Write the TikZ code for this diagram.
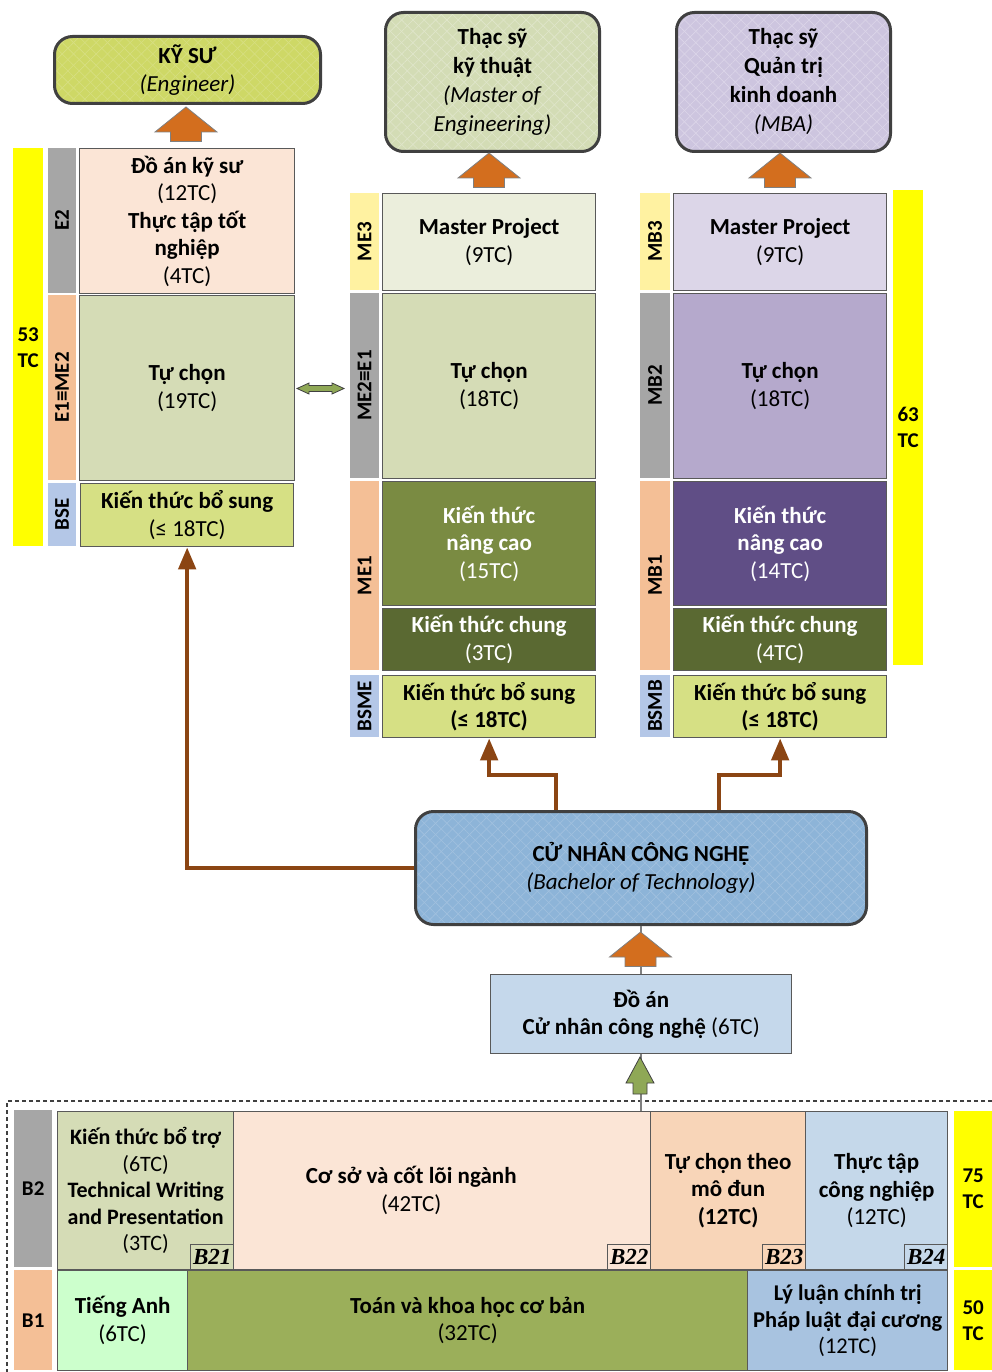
\documentclass[tikz,border=0pt]{standalone}
\usepackage{fontspec}
\setmainfont{Carlito}
\newfontfamily\tagfont{Liberation Serif}
\usetikzlibrary{arrows.meta,patterns.meta}
\definecolor{cBorder}{RGB}{89,89,89}
\definecolor{cDarkB}{RGB}{64,64,64}
\definecolor{cGray}{RGB}{166,166,166}
\definecolor{cPeach}{RGB}{244,191,150}
\definecolor{cBlueL}{RGB}{180,199,231}
\definecolor{cYel}{RGB}{255,242,161}
\definecolor{cYbar}{RGB}{255,255,0}
\definecolor{cPeachL}{RGB}{251,229,214}
\definecolor{cOliveL}{RGB}{213,220,182}
\definecolor{cBS}{RGB}{214,224,132}
\definecolor{cMEl}{RGB}{235,238,220}
\definecolor{cOlive}{RGB}{122,139,66}
\definecolor{cDark}{RGB}{90,105,50}
\definecolor{cMBl}{RGB}{220,214,232}
\definecolor{cMBm}{RGB}{181,169,204}
\definecolor{cMBd}{RGB}{96,78,134}
\definecolor{cDoan}{RGB}{197,216,235}
\definecolor{cPeachM}{RGB}{248,213,184}
\definecolor{cBlueM}{RGB}{197,216,234}
\definecolor{cGreenL}{RGB}{204,255,204}
\definecolor{cToan}{RGB}{155,175,90}
\definecolor{cBlueD}{RGB}{168,195,224}
\definecolor{cKS}{RGB}{206,216,102}
\definecolor{cME}{RGB}{211,220,181}
\definecolor{cMBA}{RGB}{205,197,223}
\definecolor{cCN}{RGB}{141,180,216}
\definecolor{cBrown}{RGB}{139,69,19}
\definecolor{cOrange}{RGB}{211,110,30}
\definecolor{cGreenA}{RGB}{143,168,86}
\newcommand\myfs{\fontsize{23}{27.5}\selectfont}
\newcommand\labfs{\fontsize{21}{26}\selectfont}
\newcommand\cellbox[7]{\node[cell,#6,minimum width={#4-#2},minimum height={#5-#3}] (#1) at (#2,#3) {#7};}
\newcommand\labbox[7]{\node[lab,#6,minimum width={#5-#3},minimum height={#4-#2}] (#1) at ({(#2+#4)/2},{(#3+#5)/2}) {#7};}
\newcommand\oarrow[2]{\draw[oarr] (#1,#2) -- ++(31,25) -- ++(-15.5,0) -- ++(0,9.5) -- ++(-31,0) -- ++(0,-9.5) -- ++(-15.5,0) -- cycle;}
\begin{document}
\begin{tikzpicture}[x=1pt,y=-1pt,
  cell/.style={draw=cBorder,line width=1.3pt,anchor=north west,inner sep=0pt,align=center,font=\myfs},
  lab/.style={rotate=90,inner sep=0pt,align=center,font=\labfs\bfseries},
  labn/.style={anchor=north west,inner sep=0pt,align=center,font=\labfs\bfseries},
  ybar/.style={fill=cYbar,anchor=north west,inner sep=0pt,align=center,font=\labfs\bfseries},
  rbox/.style 2 args={preaction={fill=#1},
     preaction={pattern={Lines[angle=45,distance=8pt,line width=0.6pt]},pattern color=#2},
     preaction={pattern={Lines[angle=-45,distance=8pt,line width=0.6pt]},pattern color=#2},
     draw=cDarkB,line width=3pt,rounded corners=18pt,anchor=north west,inner sep=0pt,align=center,font=\myfs},
  tagbox/.style={draw=cBorder,line width=1.2pt,anchor=south east,inner sep=0pt,minimum width=43,minimum height=25,font=\fontsize{23}{23}\selectfont\tagfont\bfseries\itshape},
  oarr/.style={fill=cOrange,draw=gray,line width=0.8pt},
  garr/.style={fill=cGreenA,draw=cDarkB,line width=0.8pt},
  brownline/.style={draw=cBrown,line width=4.5pt,-{Triangle[width=17pt,length=22pt]}},
  thinline/.style={draw=gray,line width=1.5pt},
  dashframe/.style={draw=cDarkB,line width=1.5pt,dash pattern=on 4pt off 3pt}
]
\useasboundingbox (0,0) rectangle (992,1372);

% top degree boxes
\node[rbox={cKS}{cKS!82!white},minimum width=266,minimum height=67] (ks) at (53,35) {\textbf{KỸ SƯ}\\\textit{(Engineer)}};
\node[rbox={cME}{cME!70!white},minimum width=214,minimum height=139] (mek) at (384,11) {\textbf{Thạc sỹ}\\[1.5pt]\textbf{kỹ thuật}\\[1.5pt]\textit{(Master of}\\[1.5pt]\textit{Engineering)}};
\node[rbox={cMBA}{cMBA!70!white},minimum width=214,minimum height=139] (mba) at (675,11) {\textbf{Thạc sỹ}\\[1.5pt]\textbf{Quản trị}\\[1.5pt]\textbf{kinh doanh}\\[1.5pt]\textit{(MBA)}};

\oarrow{186}{107}
\oarrow{489}{153}
\oarrow{780}{153}

% left column
\node[ybar,minimum width=30,minimum height=398] (t53) at (13,148) {53\\TC};
\labbox{le2}{48}{148}{76}{293}{fill=cGray}{E2}
\cellbox{e2}{79}{148}{294}{293}{fill=cPeachL}{\textbf{Đồ án kỹ sư}\\(12TC)\\\textbf{Thực tập tốt}\\\textbf{nghiệp}\\(4TC)}
\labbox{le1}{48}{295}{76}{480}{fill=cPeach}{E1≡ME2}
\cellbox{e1}{79}{295}{294}{480}{fill=cOliveL}{\textbf{Tự chọn}\\(19TC)}
\labbox{lbse}{48}{483}{76}{546}{fill=cBlueL}{BSE}
\cellbox{bse}{80}{483}{293}{546}{fill=cBS}{\textbf{Kiến thức bổ sung}\\(≤ 18TC)}

% double arrow
\draw[garr] (297,388.5) -- (309,383) -- (309,385.5) -- (332,385.5) -- (332,383) -- (344,388.5) -- (332,394) -- (332,391.5) -- (309,391.5) -- (309,394) -- cycle;

% middle column
\labbox{lme3}{350}{193}{379}{290}{fill=cYel}{ME3}
\cellbox{me3}{382}{193}{595}{290}{fill=cMEl}{\textbf{Master Project}\\(9TC)}
\labbox{lme2}{350}{293}{379}{478}{fill=cGray}{ME2≡E1}
\cellbox{me2}{382}{293}{595}{478}{fill=cOliveL}{\textbf{Tự chọn}\\(18TC)}
\labbox{lme1}{350}{481}{379}{670}{fill=cPeach}{ME1}
\cellbox{me1a}{382}{481}{595}{605}{fill=cOlive,text=white}{\textbf{Kiến thức}\\\textbf{nâng cao}\\(15TC)}
\cellbox{me1b}{382}{608}{595}{670}{fill=cDark,text=white}{\textbf{Kiến thức chung}\\(3TC)}
\labbox{lbsme}{350}{675}{379}{737}{fill=cBlueL}{BSME}
\cellbox{bsme}{382}{675}{595}{737}{fill=cBS}{\textbf{Kiến thức bổ sung}\\\textbf{(≤ 18TC)}}

% right column
\labbox{lmb3}{640}{193}{670}{290}{fill=cYel}{MB3}
\cellbox{mb3}{673}{193}{886}{290}{fill=cMBl}{\textbf{Master Project}\\(9TC)}
\labbox{lmb2}{640}{293}{670}{478}{fill=cGray}{MB2}
\cellbox{mb2}{673}{293}{886}{478}{fill=cMBm}{\textbf{Tự chọn}\\(18TC)}
\labbox{lmb1}{640}{481}{670}{670}{fill=cPeach}{MB1}
\cellbox{mb1a}{673}{481}{886}{605}{fill=cMBd,text=white}{\textbf{Kiến thức}\\\textbf{nâng cao}\\(14TC)}
\cellbox{mb1b}{673}{608}{886}{670}{fill=cDark,text=white}{\textbf{Kiến thức chung}\\(4TC)}
\labbox{lbsmb}{640}{675}{670}{737}{fill=cBlueL}{BSMB}
\cellbox{bsmb}{673}{675}{886}{737}{fill=cBS}{\textbf{Kiến thức bổ sung}\\\textbf{(≤ 18TC)}}
\node[ybar,minimum width=30,minimum height=475] (t63) at (893,190) {63\\TC};

% bachelor
\node[rbox={cCN}{cCN!82!white},minimum width=451,minimum height=113] (cn) at (414,810) {\textbf{CỬ NHÂN CÔNG NGHỆ}\\\textit{(Bachelor of Technology)}};
\cellbox{doan}{490}{974}{791}{1053}{fill=cDoan}{\textbf{Đồ án}\\\textbf{Cử nhân công nghệ} (6TC)}

% brown connectors
\coordinate (c1) at (556,775);
\coordinate (c2) at (719,775);
\draw[brownline] (cn.west) -| (bse.south);
\draw[brownline] (c1 |- cn.north) -- (c1) -| (bsme.south);
\draw[brownline] (c2 |- cn.north) -- (c2) -| (bsmb.south);

% bottom block
\draw[dashframe] (992,1101) -- (7,1101) -- (7,1372);
\node[labn,fill=cGray,minimum width=38,minimum height=157] (lb2) at (14,1110) {B2};
\node[labn,fill=cPeach,minimum width=38,minimum height=100] (lb1) at (14,1270) {B1};
\cellbox{kbt}{57}{1111}{233}{1269}{fill=cOliveL,font=\fontsize{22}{26.5}\selectfont}{\textbf{Kiến thức bổ trợ}\\(6TC)\\\textbf{Technical Writing}\\\textbf{and Presentation}\\(3TC)}
\cellbox{cs}{233}{1111}{650}{1269}{fill=cPeachL}{}
\node[align=center,font=\myfs,inner sep=0pt] (cstext) at ([xshift=-31pt]cs.center) {\textbf{Cơ sở và cốt lõi ngành}\\(42TC)};
\cellbox{tct}{650}{1111}{805}{1269}{fill=cPeachM}{\textbf{Tự chọn theo}\\\textbf{mô đun}\\\textbf{(12TC)}}
\cellbox{ttcn}{805}{1111}{947}{1269}{fill=cBlueM}{\textbf{Thực tập}\\\textbf{công nghiệp}\\(12TC)}
\node[tagbox] (b21) at (kbt.south east) {B21};
\node[tagbox] (b22) at (cs.south east) {B22};
\node[tagbox] (b23) at (tct.south east) {B23};
\node[tagbox] (b24) at (ttcn.south east) {B24};
\cellbox{ta}{57}{1270}{187}{1370}{fill=cGreenL}{\textbf{Tiếng Anh}\\(6TC)}
\cellbox{toan}{187}{1270}{747}{1370}{fill=cToan}{\textbf{Toán và khoa học cơ bản}\\(32TC)}
\cellbox{llct}{747}{1270}{947}{1370}{fill=cBlueD,font=\fontsize{22.5}{26.5}\selectfont}{\textbf{Lý luận chính trị}\\\textbf{Pháp luật đại cương}\\(12TC)}
\node[ybar,minimum width=38,minimum height=156] (t75) at (954,1111) {75\\TC};
\node[ybar,minimum width=38,minimum height=100] (t50) at (954,1270) {50\\TC};

% links between bachelor parts
\draw[thinline] (doan.north |- cn.south) -- (doan.north);
\draw[thinline] (doan.south) -- (doan.south |- cs.north);
\oarrow{640.5}{932}
\draw[garr] (640,1057) -- ++(14,26) -- ++(-7,0) -- ++(0,11) -- ++(-14,0) -- ++(0,-11) -- ++(-7,0) -- cycle;
\end{tikzpicture}
\end{document}
